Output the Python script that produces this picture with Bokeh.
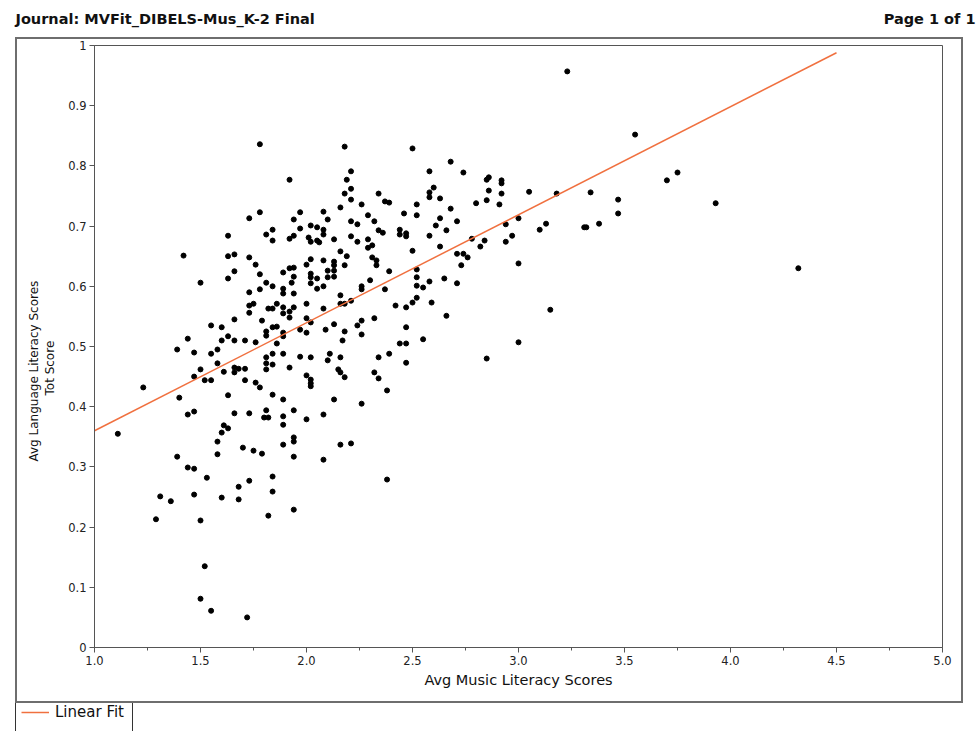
from bokeh.plotting import figure
from bokeh.layouts import column, row
from bokeh.models import (Range1d, FixedTicker, NumeralTickFormatter, Label,
                          Legend, LegendItem, Spacer, Title)
from bokeh.embed import file_html
from bokeh.resources import INLINE

# ---- data ----
music = [
    1.78, 1.78, 1.73, 1.63, 1.42, 1.63, 1.66, 1.73, 1.76, 1.66, 1.63, 1.50, 1.78, 1.73,
    2.18, 2.50, 1.92, 2.21, 2.19, 2.21, 2.18, 2.21, 2.34, 2.37, 2.39, 2.52, 2.26, 2.16,
    2.08, 1.97, 1.94, 2.10, 2.21, 2.24, 2.29, 2.32, 2.46, 2.52, 1.84, 1.81, 1.84, 1.97,
    2.02, 2.05, 2.08, 2.08, 1.94, 1.92, 2.01, 2.02, 2.05, 2.06, 2.13, 2.21, 2.24, 2.29,
    2.29, 2.31, 2.34, 2.36, 2.44, 2.44, 2.47, 2.47, 2.50, 2.16, 2.19, 2.02, 2.08, 2.00,
    2.13, 2.13, 2.13, 2.18, 2.31, 2.33, 2.33, 2.39, 2.52, 2.52, 2.52, 1.92, 1.94, 1.89,
    1.94, 2.02, 2.02, 2.05, 2.10, 2.10, 2.13, 1.81, 1.84, 1.93, 2.02, 2.05, 2.08, 1.89,
    1.89, 1.94, 1.78, 2.26, 2.26, 2.30, 2.37, 2.16, 2.52,
    2.68, 2.58, 2.74, 2.85, 2.86, 2.92, 2.92, 2.86, 2.92, 3.05, 3.18, 2.58, 2.60, 2.58,
    2.63, 2.80, 2.85, 2.91, 2.68, 2.63, 2.71, 2.61, 2.66, 2.58, 3.00, 2.94, 3.10, 3.13,
    2.97, 2.94, 2.84, 2.82, 2.78, 2.63, 2.71, 2.74, 2.76, 2.73, 3.00, 2.58, 2.65, 2.71,
    2.55,
    1.73, 1.75, 1.73, 1.66, 1.55, 1.60, 1.44, 1.63, 1.60, 1.66, 1.71, 1.76, 1.39, 1.47,
    1.55, 1.58, 1.58, 1.50, 1.47, 1.52, 1.55, 1.61, 1.66, 1.66, 1.68, 1.71, 1.71, 1.76,
    1.23, 1.40, 1.63, 1.47, 1.44, 1.66, 1.73, 1.61, 1.63, 1.60, 1.11, 1.58, 1.70, 1.75,
    1.58, 1.39, 1.44, 1.47,
    1.82, 1.84, 1.86, 1.89, 1.89, 1.92, 1.92, 1.94, 2.00, 2.08, 2.16, 2.18, 2.21, 2.42,
    2.47, 2.50, 1.79, 1.84, 1.86, 1.81, 1.81, 1.89, 1.89, 1.97, 2.00, 2.00, 2.02, 2.09,
    2.13, 2.18, 2.24, 2.26, 2.32, 2.26, 2.17, 2.47, 1.86, 1.84, 1.89, 1.81, 1.81, 1.84,
    1.81, 1.92, 1.97, 2.02, 2.10, 2.11, 2.16, 2.44, 2.47, 2.39, 2.34, 2.47, 2.00, 2.02,
    2.02, 2.02, 2.15, 2.16, 2.18, 2.32, 2.34, 2.38, 1.78, 1.84, 1.89, 2.13, 2.26, 1.81,
    1.80, 1.82, 1.94, 1.89, 1.89, 2.00, 2.08, 1.94, 1.94, 1.89, 2.16, 2.21, 1.79, 1.94,
    2.08,
    2.59, 2.66, 3.15, 2.55, 3.00, 2.85,
    1.53, 1.68, 1.73, 1.31, 1.36, 1.47, 1.60, 1.68, 1.29, 1.50, 1.52, 1.50, 1.55, 1.72,
    1.84, 2.38, 1.84, 1.94, 1.82,
    3.23, 3.55, 3.75, 3.70, 3.34, 3.47, 3.47, 3.38, 3.31, 3.32, 3.93, 4.32,
]
language = [
    0.836, 0.723, 0.713, 0.684, 0.651, 0.650, 0.653, 0.648, 0.636, 0.625, 0.613, 0.606, 0.620, 0.590,
    0.832, 0.829, 0.777, 0.791, 0.777, 0.762, 0.754, 0.744, 0.754, 0.741, 0.739, 0.736, 0.736, 0.731,
    0.724, 0.723, 0.711, 0.711, 0.708, 0.703, 0.718, 0.708, 0.721, 0.718, 0.694, 0.686, 0.676, 0.696,
    0.701, 0.698, 0.694, 0.686, 0.684, 0.679, 0.681, 0.674, 0.676, 0.673, 0.678, 0.683, 0.674, 0.678,
    0.664, 0.668, 0.693, 0.689, 0.694, 0.686, 0.688, 0.683, 0.659, 0.658, 0.650, 0.645, 0.643, 0.636,
    0.641, 0.635, 0.626, 0.635, 0.648, 0.643, 0.635, 0.625, 0.628, 0.615, 0.601, 0.630, 0.631, 0.623,
    0.616, 0.621, 0.615, 0.613, 0.626, 0.615, 0.616, 0.606, 0.600, 0.606, 0.605, 0.596, 0.600, 0.596,
    0.588, 0.588, 0.595, 0.600, 0.595, 0.610, 0.595, 0.585, 0.581,
    0.807, 0.791, 0.789, 0.777, 0.781, 0.776, 0.771, 0.759, 0.754, 0.757, 0.754, 0.756, 0.764, 0.748,
    0.746, 0.738, 0.743, 0.736, 0.729, 0.713, 0.708, 0.701, 0.693, 0.684, 0.713, 0.703, 0.694, 0.704,
    0.684, 0.674, 0.676, 0.666, 0.679, 0.666, 0.654, 0.654, 0.648, 0.635, 0.638, 0.608, 0.613, 0.605,
    0.598,
    0.568, 0.571, 0.556, 0.545, 0.535, 0.532, 0.513, 0.517, 0.510, 0.510, 0.510, 0.507, 0.495, 0.490,
    0.488, 0.495, 0.472, 0.462, 0.450, 0.444, 0.444, 0.458, 0.465, 0.457, 0.463, 0.463, 0.444, 0.440,
    0.432, 0.415, 0.419, 0.392, 0.387, 0.389, 0.389, 0.369, 0.364, 0.357, 0.355, 0.342, 0.332, 0.327,
    0.321, 0.317, 0.299, 0.297,
    0.563, 0.563, 0.571, 0.565, 0.555, 0.558, 0.548, 0.565, 0.571, 0.563, 0.571, 0.571, 0.576, 0.568,
    0.565, 0.573, 0.543, 0.532, 0.533, 0.525, 0.518, 0.523, 0.517, 0.528, 0.547, 0.523, 0.540, 0.528,
    0.537, 0.525, 0.535, 0.543, 0.547, 0.520, 0.510, 0.532, 0.505, 0.488, 0.488, 0.482, 0.472, 0.470,
    0.462, 0.465, 0.483, 0.482, 0.477, 0.488, 0.482, 0.505, 0.505, 0.488, 0.482, 0.473, 0.452, 0.445,
    0.439, 0.434, 0.462, 0.457, 0.449, 0.457, 0.447, 0.427, 0.432, 0.420, 0.412, 0.412, 0.405, 0.394,
    0.382, 0.382, 0.394, 0.384, 0.370, 0.379, 0.387, 0.349, 0.342, 0.337, 0.337, 0.339, 0.322, 0.317,
    0.312,
    0.573, 0.551, 0.561, 0.512, 0.507, 0.480,
    0.282, 0.267, 0.277, 0.251, 0.243, 0.254, 0.249, 0.246, 0.213, 0.211, 0.135, 0.081, 0.061, 0.050,
    0.284, 0.279, 0.259, 0.229, 0.219,
    0.957, 0.852, 0.789, 0.776, 0.756, 0.744, 0.721, 0.704, 0.698, 0.698, 0.738, 0.630,
]

fit_x = [1.0, 4.5]
fit_y = [0.360, 0.988]

x_ticks = [1.0, 1.5, 2.0, 2.5, 3.0, 3.5, 4.0, 4.5, 5.0]
x_minor = [1.25, 1.75, 2.25, 2.75, 3.25, 3.75, 4.25, 4.75]
y_ticks = [0.0, 0.1, 0.2, 0.3, 0.4, 0.5, 0.6, 0.7, 0.8, 0.9, 1.0]

header_left = "Journal: MVFit_DIBELS-Mus_K-2 Final"
header_right = "Page 1 of 1"
x_title = "Avg Music Literacy Scores"
y_title_lines = ["Avg Language Literacy Scores", "Tot Score"]
legend_text = "Linear Fit"

FONT = "DejaVu Sans"
FIT_COLOR = "#F0703F"
FRAME_COLOR = "#555555"
BOX_COLOR = "#6e6e6e"
LEG_BOX_COLOR = "#333333"

W = 977
HEAD_H = 37
BOX_L, BOX_R, BOX_T, BOX_B = 15, 963, 37, 703
BW = 2                                  # outer box line width
FL, FR, FT, FB = 94, 942, 45, 647       # plot frame in window pixels
LEG_W, LEG_H = 118, 28
LEG_INSET = 5


def bare(width, height, **kw):
    f = figure(width=width, height=height, output_backend="svg", toolbar_location=None,
               x_range=Range1d(0, 1), y_range=Range1d(0, 1),
               min_border=0, min_border_left=0, min_border_right=0,
               min_border_top=0, min_border_bottom=0, **kw)
    f.axis.visible = False
    f.grid.visible = False
    f.outline_line_color = None
    return f


def bar(width, height, color):
    return Spacer(width=width, height=height, styles={"background-color": color})


# ---------------- header strip ----------------
head = bare(W, HEAD_H)
head.x_range = Range1d(0, W)
head.y_range = Range1d(0, HEAD_H)
head.add_layout(Label(x=BOX_L, y=HEAD_H - 18, text=header_left, text_font=FONT,
                      text_font_size="14.5px", text_font_style="bold",
                      text_baseline="middle", text_align="left", text_color="#111111"))
head.add_layout(Label(x=W - 2, y=HEAD_H - 18, text=header_right, text_font=FONT,
                      text_font_size="14.5px", text_font_style="bold",
                      text_baseline="middle", text_align="right", text_color="#111111"))

# ---------------- main chart ----------------
PX0, PY0 = BOX_L + BW, BOX_T + BW
PW, PH = (BOX_R - BW) - PX0, (BOX_B - BW) - PY0
p = figure(width=PW, height=PH, output_backend="svg", toolbar_location=None,
           x_range=Range1d(1.0, 5.0), y_range=Range1d(0.0, 1.0),
           min_border_left=FL - PX0, min_border_right=(BOX_R - BW) - FR,
           min_border_top=FT - PY0, min_border_bottom=(BOX_B - BW) - FB)
p.grid.visible = False
p.outline_line_color = FRAME_COLOR
p.outline_line_width = 1

p.xaxis.ticker = FixedTicker(ticks=x_ticks, minor_ticks=x_minor)
p.xaxis.formatter = NumeralTickFormatter(format="0.0")
p.yaxis.ticker = FixedTicker(ticks=y_ticks, minor_ticks=[])
p.yaxis.formatter = NumeralTickFormatter(format="0.[0]")
for ax in (p.xaxis, p.yaxis):
    ax.axis_line_color = FRAME_COLOR
    ax.major_tick_line_color = FRAME_COLOR
    ax.minor_tick_line_color = FRAME_COLOR
    ax.major_tick_in = 0
    ax.major_tick_out = 5
    ax.minor_tick_in = 0
    ax.minor_tick_out = 3
    ax.major_label_text_font = FONT
    ax.major_label_text_font_size = "11.5px"
    ax.major_label_text_color = "#222222"
p.xaxis.axis_label = x_title
p.xaxis.axis_label_text_font = FONT
p.xaxis.axis_label_text_font_size = "14.5px"
p.xaxis.axis_label_text_font_style = "normal"
p.xaxis.axis_label_text_color = "#111111"
p.xaxis.axis_label_standoff = 4
p.xaxis.major_label_standoff = 3
p.yaxis.major_label_standoff = 3
# a blank, tiny y axis label only keeps a gap between tick labels and the title lines
p.yaxis.axis_label = " "
p.yaxis.axis_label_text_font_size = "1px"
p.yaxis.axis_label_standoff = 5

# y title as two lines (left panel titles, placed from the frame bottom upward)
Y_TITLE_SIZE = "12px"
y_offsets = {y_title_lines[1]: 252, y_title_lines[0]: 186}
for txt in (y_title_lines[1], y_title_lines[0]):
    p.add_layout(Title(text=txt, align="left", offset=y_offsets[txt], standoff=0,
                       text_font=FONT, text_font_size=Y_TITLE_SIZE,
                       text_font_style="normal", text_color="#111111"), "left")

p.scatter(music, language, size=5, color="black", line_color="black")
p.line(fit_x, fit_y, line_color=FIT_COLOR, line_width=1.5)

# ---------------- legend box ----------------
lg = bare(LEG_W - 2 - LEG_INSET, LEG_H)
fit_key = lg.line(x=[float("nan")], y=[float("nan")], line_color=FIT_COLOR, line_width=1.5)
leg = Legend(items=[LegendItem(label=legend_text, renderers=[fit_key])],
             location="top_left", orientation="vertical",
             border_line_color=None, background_fill_alpha=0,
             label_text_font=FONT, label_text_font_size="15px",
             label_text_color="#111111",
             glyph_width=28, glyph_height=16, label_height=16,
             padding=6, spacing=0, margin=0, label_standoff=6)
lg.add_layout(leg)

layout = column(
    head,
    row(Spacer(width=BOX_L, height=BW), bar(BOX_R - BOX_L, BW, BOX_COLOR)),
    row(Spacer(width=BOX_L, height=PH), bar(BW, PH, BOX_COLOR), p, bar(BW, PH, BOX_COLOR)),
    row(Spacer(width=BOX_L, height=BW), bar(BOX_R - BOX_L, BW, BOX_COLOR)),
    row(Spacer(width=BOX_L, height=LEG_H), bar(1, LEG_H, LEG_BOX_COLOR),
        Spacer(width=LEG_INSET, height=LEG_H), lg, bar(1, LEG_H, LEG_BOX_COLOR)),
)

open("out.html", "w").write(file_html(layout, INLINE))
